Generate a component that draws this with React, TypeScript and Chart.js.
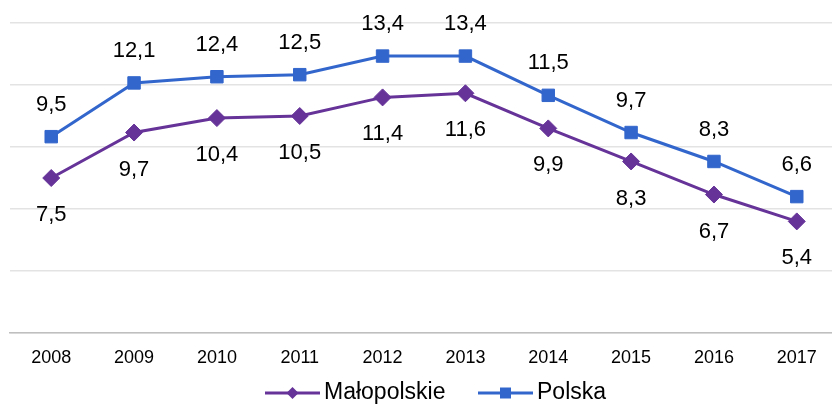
import React, { useEffect, useRef } from "react";
import { Chart, registerables } from "chart.js";

Chart.register(...registerables);

const years = ["2008", "2009", "2010", "2011", "2012", "2013", "2014", "2015", "2016", "2017"];
const malopolskie = [7.5, 9.7, 10.4, 10.5, 11.4, 11.6, 9.9, 8.3, 6.7, 5.4];
const polska = [9.5, 12.1, 12.4, 12.5, 13.4, 13.4, 11.5, 9.7, 8.3, 6.6];
const seriesNames = ["Małopolskie", "Polska"];
const seriesColors = ["#663399", "#3366CC"];
const pointStyles = ["rectRot", "rect"];
const yMax = 15;
const yStep = 3;

const FONT = "'Liberation Sans', Arial, sans-serif";

const fmt = (v: number) => v.toFixed(1).replace(".", ",");

const labelsPlugin = {
  id: "valueLabels",
  afterDatasetsDraw(chart: any) {
    const ctx = chart.ctx;
    ctx.save();
    ctx.font = `22px ${FONT}`;
    ctx.fillStyle = "#000";
    ctx.textAlign = "center";
    ctx.textBaseline = "middle";
    chart.data.datasets.forEach((ds: any, i: number) => {
      const meta = chart.getDatasetMeta(i);
      meta.data.forEach((pt: any, j: number) => {
        const off = i === 0 ? 37 : -32;
        ctx.fillText(fmt(ds.data[j]), pt.x, pt.y + off);
      });
    });
    ctx.restore();
  },
};

const legendPlugin = {
  id: "customLegend",
  afterDraw(chart: any) {
    const ctx = chart.ctx;
    ctx.save();
    ctx.font = `23px ${FONT}`;
    const lineLen = 55;
    const gap = 4;
    const starts = [265, 478];
    const y = 393;
    seriesNames.forEach((name, i) => {
      const x = starts[i];
      ctx.strokeStyle = seriesColors[i];
      ctx.lineWidth = 3;
      ctx.beginPath();
      ctx.moveTo(x, y);
      ctx.lineTo(x + lineLen, y);
      ctx.stroke();
      ctx.fillStyle = seriesColors[i];
      const cx = x + lineLen / 2;
      ctx.beginPath();
      if (i === 0) {
        const r = 6;
        ctx.moveTo(cx, y - r);
        ctx.lineTo(cx + r, y);
        ctx.lineTo(cx, y + r);
        ctx.lineTo(cx - r, y);
        ctx.closePath();
      } else {
        const s = 5.5;
        ctx.rect(cx - s, y - s, 2 * s, 2 * s);
      }
      ctx.fill();
      ctx.fillStyle = "#000";
      ctx.textAlign = "left";
      ctx.textBaseline = "middle";
      ctx.fillText(name, x + lineLen + gap, y);
    });
    ctx.restore();
  },
};

export default function App() {
  const ref = useRef<HTMLCanvasElement>(null);
  useEffect(() => {
    if (!ref.current) return;
    const chart = new Chart(ref.current, {
      type: "line",
      data: {
        labels: years,
        datasets: [
          {
            label: seriesNames[0],
            data: malopolskie,
            borderColor: seriesColors[0],
            backgroundColor: seriesColors[0],
            borderWidth: 3,
            pointStyle: pointStyles[0] as any,
            pointRadius: 8.5,
            pointBorderWidth: 1,
            tension: 0,
          },
          {
            label: seriesNames[1],
            data: polska,
            borderColor: seriesColors[1],
            backgroundColor: seriesColors[1],
            borderWidth: 3,
            pointStyle: pointStyles[1] as any,
            pointRadius: 8.8,
            pointBorderWidth: 1,
            tension: 0,
          },
        ],
      },
      options: {
        animation: false,
        responsive: false,
        maintainAspectRatio: false,
        layout: { padding: { left: 9.5, right: 9.5, top: 23, bottom: 23.4 } },
        plugins: {
          legend: { display: false },
          tooltip: { enabled: false },
          title: { display: false },
        },
        scales: {
          x: {
            offset: true,
            grid: { display: false, drawTicks: false },
            border: { display: true, color: "#bfbfbf", width: 1.5 },
            ticks: { color: "#000", font: { family: FONT, size: 18 }, padding: 14, maxRotation: 0 },
          },
          y: {
            min: 0,
            max: yMax,
            ticks: { display: false, stepSize: yStep },
            grid: { color: "#e3e3e3", lineWidth: 1.5, drawTicks: false },
            border: { display: false },
          },
        },
      },
      plugins: [labelsPlugin, legendPlugin],
    });
    return () => chart.destroy();
  }, []);
  return (
    <div style={{ position: "fixed", left: 0, top: 0, width: 832, height: 406, overflow: "hidden", background: "#fff" }}>
      <canvas ref={ref} width={848} height={406} style={{ width: 848, height: 406, display: "block" }} />
    </div>
  );
}
